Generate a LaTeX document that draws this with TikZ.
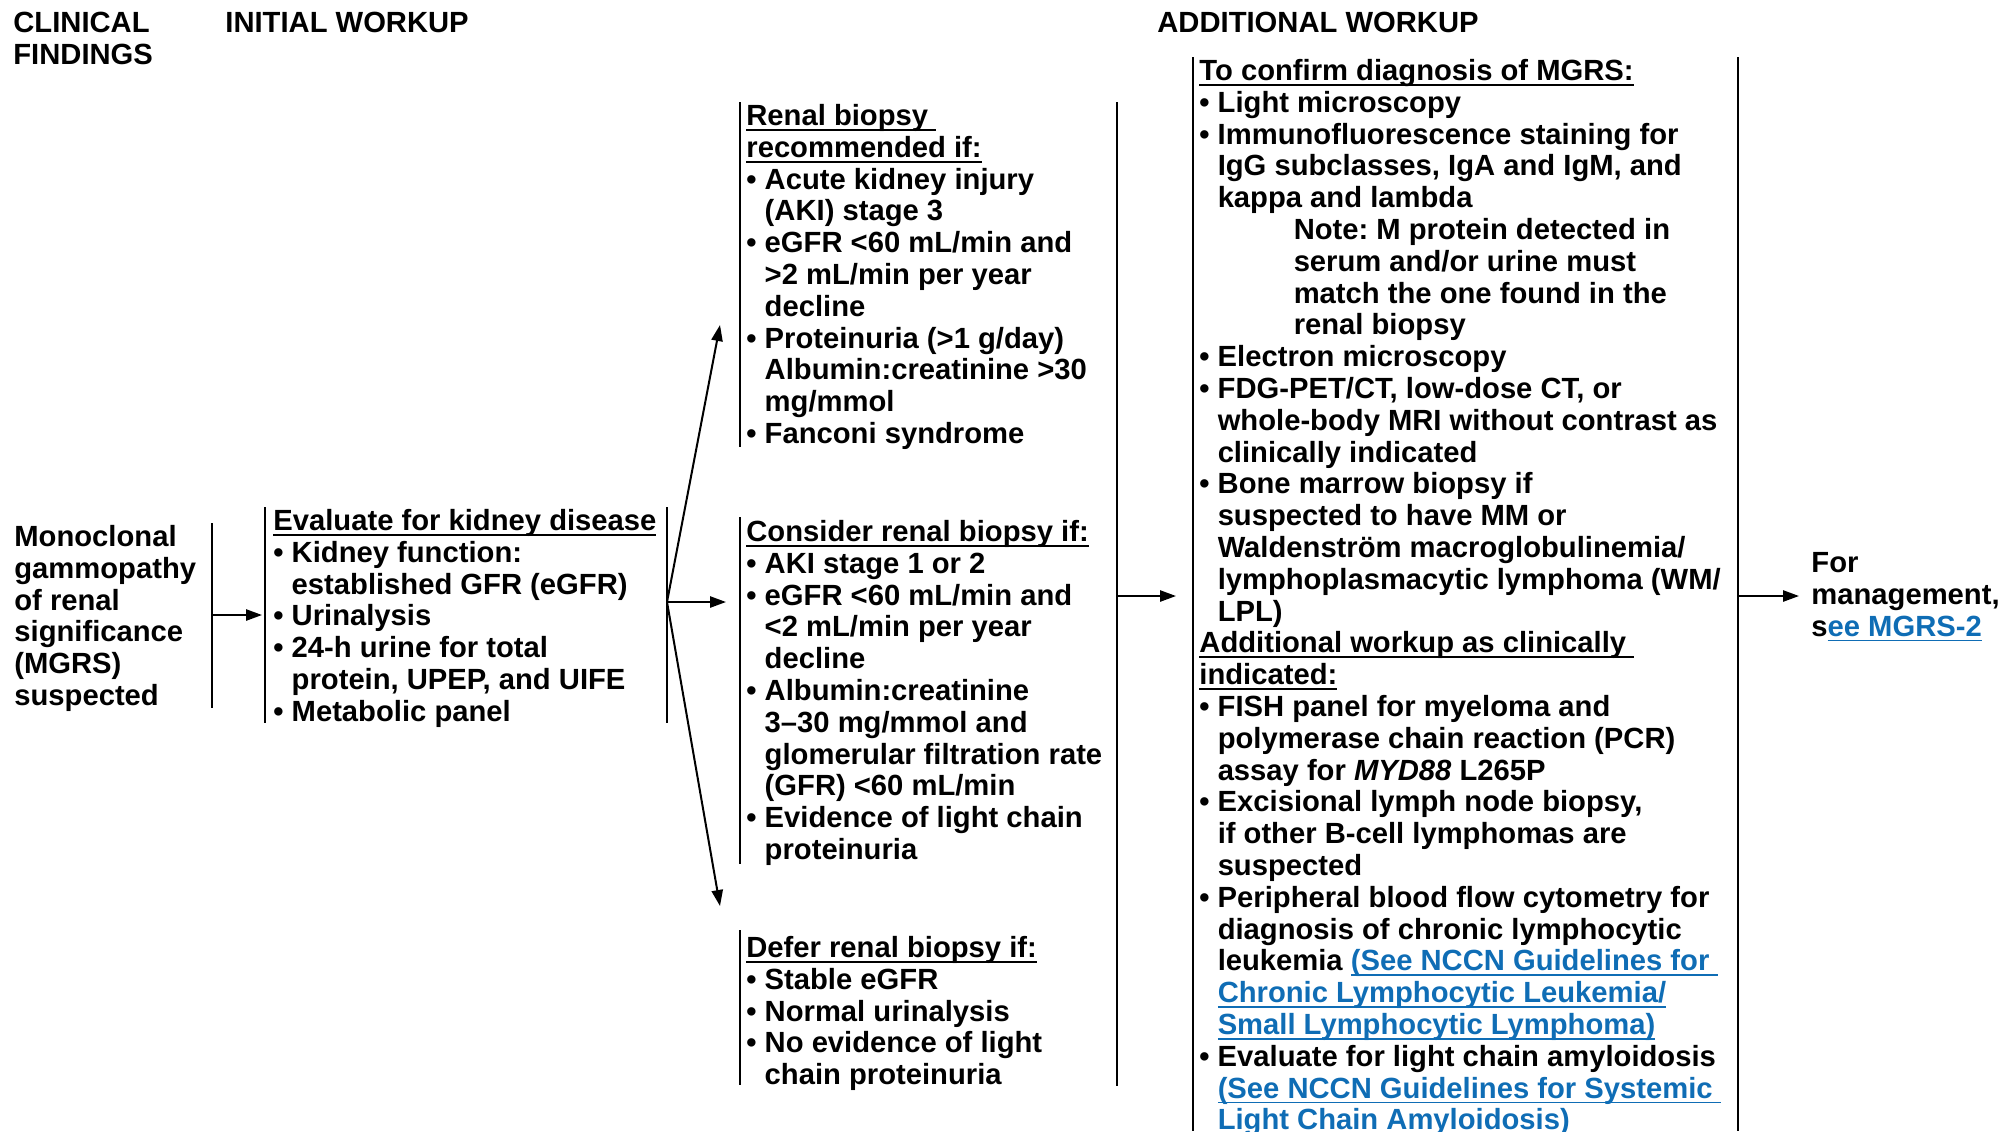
\documentclass[tikz,border=0pt]{standalone}
\usepackage{fontspec}
\setmainfont{Liberation Sans}
\usepackage{xcolor}
\usetikzlibrary{arrows.meta}
\definecolor{nccnblue}{HTML}{0F6DB5}
\frenchspacing

% underline that sits just under the baseline
\newsavebox\ulbox
\newcommand{\ulin}[1]{\sbox\ulbox{#1}\rlap{\rule[-2.6pt]{\wd\ulbox}{0.9pt}}\usebox\ulbox}
\newcommand{\lnk}[1]{\textcolor{nccnblue}{\ulin{#1}}}
\newcommand{\itm}{\textbullet\ }
\newcommand{\ind}{\phantom{\textbullet\ }}

\begin{document}
\begin{tikzpicture}[x=0.5pt, y=-0.5pt,
  txt/.style={anchor=north west, inner sep=0pt, align=left,
    font=\fontsize{14.6pt}{15.9pt}\selectfont\bfseries},
  bar/.style={line width=1pt},
  arr/.style={line width=1pt, -{Triangle[length=8pt,width=5.6pt]}}]
\useasboundingbox (0,0) rectangle (2001,1131);
% column headings
\node[txt] (clin) at (13,12) {CLINICAL\\FINDINGS};
\node[txt] (init) at (225,12) {INITIAL WORKUP};
\node[txt] (addl) at (1157,12) {ADDITIONAL WORKUP};
% clinical findings
\node[txt] (mgrs) at (14,525) {Monoclonal\\gammopathy\\of renal\\significance\\(MGRS)\\suspected};
% initial workup
\node[txt] (eval) at (273,509) {\ulin{Evaluate for kidney disease}\\
\itm Kidney function:\\
\ind established GFR (eGFR)\\
\itm Urinalysis\\
\itm 24-h urine for total\\
\ind protein, UPEP, and UIFE\\
\itm Metabolic panel};
% three biopsy branches
\node[txt] (rec) at (746,104) {\ulin{Renal biopsy\ }\\
\ulin{recommended if:}\\
\itm Acute kidney injury\\
\ind (AKI) stage 3\\
\itm eGFR <60 mL/min and\\
\ind >2 mL/min per year\\
\ind decline\\
\itm Proteinuria (>1 g/day)\\
\ind Albumin:creatinine >30\\
\ind mg/mmol\\
\itm Fanconi syndrome};
\node[txt] (cons) at (746,520) {\ulin{Consider renal biopsy if:}\\
\itm AKI stage 1 or 2\\
\itm eGFR <60 mL/min and\\
\ind <2 mL/min per year\\
\ind decline\\
\itm Albumin:creatinine\\
\ind 3–30 mg/mmol and\\
\ind glomerular filtration rate\\
\ind (GFR) <60 mL/min\\
\itm Evidence of light chain\\
\ind proteinuria};
\node[txt] (defer) at (746,936) {\ulin{Defer renal biopsy if:}\\
\itm Stable eGFR\\
\itm Normal urinalysis\\
\itm No evidence of light\\
\ind chain proteinuria};
% additional workup
\node[txt] (conf) at (1199,59) {\ulin{To confirm diagnosis of MGRS:}\\
\itm Light microscopy\\
\itm Immunofluorescence staining for\\
\ind IgG subclasses, IgA and IgM, and\\
\ind kappa and lambda\\
\ind\hspace*{38pt}Note: M protein detected in\\
\ind\hspace*{38pt}serum and/or urine must\\
\ind\hspace*{38pt}match the one found in the\\
\ind\hspace*{38pt}renal biopsy\\
\itm Electron microscopy\\
\itm FDG-PET/CT, low-dose CT, or\\
\ind whole-body MRI without contrast as\\
\ind clinically indicated\\
\itm Bone marrow biopsy if\\
\ind suspected to have MM or\\
\ind Waldenström macroglobulinemia/\\
\ind lymphoplasmacytic lymphoma (WM/\\
\ind LPL)\\
\ulin{Additional workup as clinically\ }\\
\ulin{indicated:}\\
\itm FISH panel for myeloma and\\
\ind polymerase chain reaction (PCR)\\
\ind assay for \textit{MYD88} L265P\\
\itm Excisional lymph node biopsy,\\
\ind if other B-cell lymphomas are\\
\ind suspected\\
\itm Peripheral blood flow cytometry for\\
\ind diagnosis of chronic lymphocytic\\
\ind leukemia \lnk{(See NCCN Guidelines for\ }\\
\ind\lnk{Chronic Lymphocytic Leukemia/}\\
\ind\lnk{Small Lymphocytic Lymphoma)}\\
\itm Evaluate for light chain amyloidosis\\
\ind\lnk{(See NCCN Guidelines for Systemic\ }\\
\ind\lnk{Light Chain Amyloidosis)}};
\node[txt] (mgmt) at (1811,552) {For\\management,\\s\lnk{ee MGRS-2}};
% bars
\draw[bar] (212,523) -- (212,708);
\draw[bar] (265,507) -- (265,723);
\draw[bar] (667,507) -- (667,723);
\draw[bar] (740,102) -- (740,447);
\draw[bar] (740,517) -- (740,864);
\draw[bar] (740,930) -- (740,1085);
\draw[bar] (1117,102) -- (1117,1086);
\draw[bar] (1193,57) -- (1193,1131);
\draw[bar] (1738,57) -- (1738,1131);
% arrow ends
\coordinate (cfOut) at (212,615);
\coordinate (evIn) at (262,615);
\coordinate (fork) at (667,602);
\coordinate (recIn) at (720,325);
\coordinate (consIn) at (726,602);
\coordinate (defIn) at (720,906);
\coordinate (midOut) at (1117,596);
\coordinate (addIn) at (1176,596);
\coordinate (addOut) at (1738,596);
\coordinate (mgmtIn) at (1799,596);
% arrows
\draw[arr] (cfOut) -- (evIn);
\draw[arr] (fork) -- (recIn);
\draw[arr] (fork) -- (consIn);
\draw[arr] (fork) -- (defIn);
\draw[arr] (midOut) -- (addIn);
\draw[arr] (addOut) -- (mgmtIn);
\end{tikzpicture}
\end{document}
